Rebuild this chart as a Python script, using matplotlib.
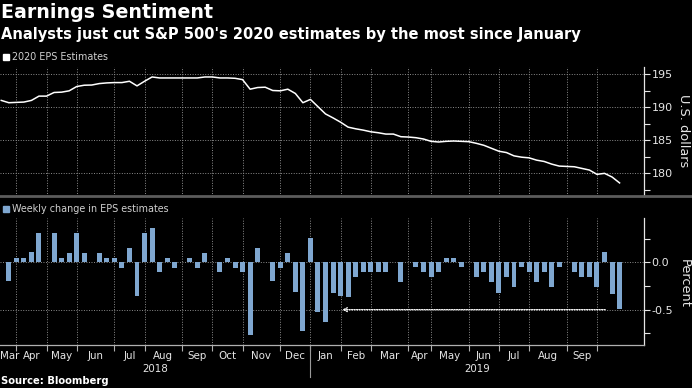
import numpy as np
import pandas as pd
import matplotlib
matplotlib.use("Agg")
import matplotlib.pyplot as plt
from matplotlib.lines import Line2D
from matplotlib.ticker import MultipleLocator

# ---------------- data ----------------
# weekly (Friday) observations; the Good Friday 2019 week is absent in the source series
weeks = [d for d in pd.date_range("2018-03-23", "2019-10-25", freq="W-FRI")
         if d != pd.Timestamp("2019-04-19")]

eps_estimates = [
    191.0, 190.65, 190.7, 190.75, 191.0, 191.65, 191.65, 192.2, 192.25, 192.45,
    193.1, 193.3, 193.33, 193.55, 193.65, 193.7, 193.7, 193.9, 193.2, 193.9,
    194.55, 194.4, 194.4, 194.4, 194.4, 194.4, 194.4, 194.55, 194.55, 194.4,
    194.4, 194.35, 194.15, 192.7, 192.95, 193.0, 192.5, 192.45, 192.7, 192.05,
    190.65, 191.15, 190.05, 188.95, 188.35, 187.7, 186.95, 186.7, 186.5, 186.25,
    186.1, 185.9, 185.9, 185.5, 185.45, 185.35, 185.15, 184.8, 184.7, 184.8,
    184.85, 184.8, 184.75, 184.5, 184.2, 183.75, 183.3, 183.1, 182.6, 182.4,
    182.3, 181.95, 181.75, 181.35, 181.05, 181.0, 180.95, 180.7, 180.45, 179.8,
    179.95, 179.4, 178.5,
]

weekly_change = [
    np.nan, -0.20, 0.05, 0.05, 0.105, 0.31, 0.0, 0.31, 0.05, 0.10,
    0.31, 0.10, 0.0, 0.10, 0.05, 0.05, -0.056, 0.155, -0.36, 0.31,
    0.36, -0.10, 0.05, -0.056, 0.0, 0.05, -0.056, 0.10, 0.0, -0.10,
    0.05, -0.056, -0.10, -0.765, 0.155, 0.0, -0.20, -0.056, 0.10, -0.31,
    -0.72, 0.26, -0.52, -0.625, -0.32, -0.36, -0.37, -0.155, -0.105, -0.105,
    -0.105, -0.105, 0.0, -0.21, 0.0, -0.053, -0.105, -0.155, -0.105, 0.05,
    0.05, -0.053, 0.0, -0.155, -0.105, -0.21, -0.32, -0.16, -0.26, -0.053,
    -0.105, -0.21, -0.105, -0.26, -0.053, 0.0, -0.105, -0.16, -0.16, -0.26,
    0.11, -0.33, -0.495,
]

month_labels = ["Mar", "Apr", "May", "Jun", "Jul", "Aug", "Sep", "Oct", "Nov", "Dec",
                "Jan", "Feb", "Mar", "Apr", "May", "Jun", "Jul", "Aug", "Sep"]
year_labels = ["2018", "2019"]

eps_ticks = [180, 185, 190, 195]
pct_ticks = [-0.5, 0.0]

# annotation: dotted arrow from latest weeks back to the last comparable cut
arrow_from = (80.1, -0.5)
arrow_to = (45.2, -0.5)

# ---------------- style ----------------
BG = "black"
FG = "#e6e6e6"
GRID = "#8c8c8c"
BAR = "#7fa7d0"
FONT = "DejaVu Sans"
plt.rcParams["font.family"] = FONT

W, H = 692, 388
fig = plt.figure(figsize=(W / 100, H / 100), dpi=100, facecolor=BG)

def fx(px):
    return px / W

def fy(py):
    return 1 - py / H

x = np.arange(len(weeks))
xlim = (-0.17, 85.24)

# month starts (first week of each month) derived from dates
months = pd.Series([(d.year, d.month) for d in weeks])
month_start = [i for i in range(1, len(weeks)) if months[i] != months[i - 1]]
edges = [xlim[0]] + month_start
label_pos = [(edges[k] + edges[k + 1]) / 2 for k in range(len(month_labels))]
# the first (partial) month label is kept fully inside the figure
label_pos[0] = max(label_pos[0], xlim[0] + 1.25)

ax1 = fig.add_axes([0, fy(196), fx(644), (196 - 67) / H], facecolor=BG)
ax2 = fig.add_axes([0, fy(345), fx(644), (345 - 218) / H], facecolor=BG)

for ax in (ax1, ax2):
    ax.set_xlim(*xlim)
    for s in ("left", "top", "bottom"):
        ax.spines[s].set_visible(False)
    ax.spines["right"].set_color(FG)
    ax.spines["right"].set_linewidth(0.9)
    ax.yaxis.tick_right()
    ax.tick_params(axis="y", which="both", colors=FG, labelcolor=FG,
                   direction="out", labelsize=8.0, pad=1.5, width=0.8)
    ax.tick_params(axis="y", which="major", length=4)
    ax.tick_params(axis="y", which="minor", length=4)
    for m in month_start:
        ax.axvline(m, color=GRID, lw=0.7, ls=(0, (1, 1.6)), zorder=0)

# ---- top panel: EPS estimates line ----
ax1.plot(x, eps_estimates, color="white", lw=1.1, zorder=3)
ax1.set_ylim(176.52, 196.06)
ax1.set_yticks(eps_ticks)
ax1.yaxis.set_minor_locator(MultipleLocator(2.5))
for t in eps_ticks:
    ax1.axhline(t, color=GRID, lw=0.7, ls=(0, (1, 1.6)), zorder=0)
ax1.set_xticks([])

# ---- bottom panel: weekly change bars ----
ax2.bar(x, weekly_change, width=0.66, color=BAR, zorder=3)
ax2.set_ylim(-0.873, 0.468)
ax2.set_yticks(pct_ticks)
ax2.set_yticklabels([f"{v:.1f}" for v in pct_ticks])
ax2.yaxis.set_minor_locator(MultipleLocator(0.25))
for t in pct_ticks:
    ax2.axhline(t, color=GRID, lw=0.7, ls=(0, (1, 1.6)), zorder=0)

ax2.spines["bottom"].set_visible(True)
ax2.spines["bottom"].set_color("#b0b0b0")
ax2.spines["bottom"].set_linewidth(0.9)
ax2.set_xticks(month_start)
ax2.set_xticklabels([])
ax2.tick_params(axis="x", which="major", length=4, color="#b0b0b0", width=0.8)
ax2.set_xticks(label_pos, minor=True)
ax2.set_xticklabels(month_labels, minor=True)
ax2.tick_params(axis="x", which="minor", length=0, labelsize=7.4,
                labelcolor=FG, pad=4)

# year labels and separator
jan_idx = month_start[month_labels.index("Jan") - 1]
year_edges = [xlim[0], jan_idx, xlim[1]]
trans = ax2.get_xaxis_transform()
for k, yl in enumerate(year_labels):
    ax2.text((year_edges[k] + year_edges[k + 1]) / 2, -(369 - 345) / 127, yl,
             transform=trans, ha="center", va="center", color=FG, fontsize=7.4)
ax2.add_line(Line2D([jan_idx, jan_idx], [0, -(377 - 345) / 127], transform=trans,
                    color="#9a9a9a", lw=0.8, clip_on=False))

# dotted arrow annotation
ax2.annotate("", xy=arrow_to, xytext=arrow_from,
             arrowprops=dict(arrowstyle="->", color="white", lw=0.9,
                             ls=(0, (1, 1)), mutation_scale=7,
                             shrinkA=0, shrinkB=0), zorder=4)

# axis titles on the right
fig.text(fx(684), fy(131), "U.S. dollars", color=FG, fontsize=9.3, rotation=270,
         ha="center", va="center")
fig.text(fx(684), fy(283), "Percent", color=FG, fontsize=9.3, rotation=270,
         ha="center", va="center")

# separator between panels
fig.add_artist(Line2D([0, 1], [fy(196), fy(196)], color="#5c5c5c", lw=2.0))

# legends
fig.add_artist(plt.Rectangle((fx(3), fy(60)), fx(6), 6 / H, color="white"))
fig.text(fx(12), fy(56.5), "2020 EPS Estimates", color="#d0d0d0", fontsize=6.9,
         va="center", ha="left")
fig.add_artist(plt.Rectangle((fx(3), fy(212)), fx(6), 6 / H, color=BAR))
fig.text(fx(12), fy(208.5), "Weekly change in EPS estimates", color="#d0d0d0",
         fontsize=6.9, va="center", ha="left")

# titles & source
fig.text(fx(1), fy(13), "Earnings Sentiment", color="white", fontsize=13.7,
         weight="bold", va="center", ha="left")
fig.text(fx(1), fy(34), "Analysts just cut S&P 500's 2020 estimates by the most since January",
         color="white", fontsize=10.5, weight="bold", va="center", ha="left")
fig.text(fx(1), fy(381.5), "Source: Bloomberg", color="white", fontsize=7.2,
         weight="bold", va="center", ha="left")

fig.savefig("out.png", dpi=100, facecolor=BG)
